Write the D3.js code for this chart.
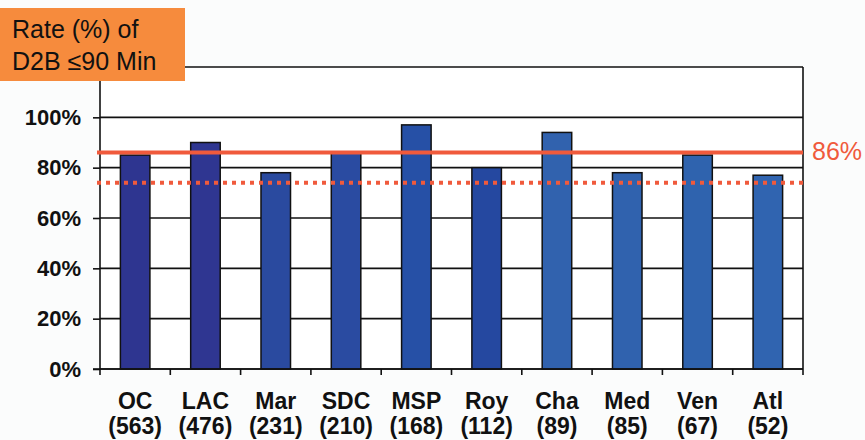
<!DOCTYPE html>
<html>
<head>
<meta charset="utf-8">
<script src="https://cdn.jsdelivr.net/npm/d3@7"></script>
<style>
body { margin:0; background:#fbfcfc; }
svg { display:block; font-family: "Liberation Sans", Arial, sans-serif; }
.tick text { font-weight:bold; }
</style>
</head>
<body>
<svg id="chart"></svg>
<script>
// hospital names, case counts and rates
var sites = ["OC","LAC","Mar","SDC","MSP","Roy","Cha","Med","Ven","Atl"];
var counts = ["(563)","(476)","(231)","(210)","(168)","(112)","(89)","(85)","(67)","(52)"];
var rates = [85, 90, 78, 86, 97, 80, 94, 78, 85, 77];
var barColors = ["#2e3590","#2f3691","#2a4a9f","#2a4ba1","#2650a6","#2548a0","#3162ae","#3062ae","#2f63ae","#3064b0"];
var yTicks = [0, 20, 40, 60, 80, 100];
var target = 86;      // solid line
var lowerLine = 74;   // dotted line

var screen = {width:865, height:440};
var margins = {left:100, right:62, top:67, bottom:71};

var graph = {
    width: screen.width - margins.left - margins.right,
    height: screen.height - margins.top - margins.bottom
};

var svg = d3.select("#chart")
    .attr("width", screen.width)
    .attr("height", screen.height);

var xScale = d3.scaleBand()
    .domain(sites)
    .range([0, graph.width])
    .paddingInner(0.58)
    .paddingOuter(0.29);

var yScale = d3.scaleLinear()
    .domain([0, 120])
    .range([graph.height, 0]);

var plot = svg.append("g")
    .attr("transform", "translate(" + margins.left + "," + margins.top + ")");

// plot background + gridlines
plot.append("rect")
    .attr("width", graph.width)
    .attr("height", graph.height)
    .attr("fill", "#ffffff");

plot.append("g")
    .selectAll("line")
    .data(yTicks.concat([120]))
    .enter()
    .append("line")
    .attr("x1", 0)
    .attr("x2", graph.width)
    .attr("y1", function(d){ return yScale(d); })
    .attr("y2", function(d){ return yScale(d); })
    .attr("stroke", "#111")
    .attr("stroke-width", 1.6);

// right border
plot.append("line")
    .attr("x1", graph.width).attr("x2", graph.width)
    .attr("y1", 0).attr("y2", graph.height)
    .attr("stroke", "#111").attr("stroke-width", 1.6);

// bars
plot.append("g")
    .selectAll("rect")
    .data(rates)
    .enter()
    .append("rect")
    .attr("x", function(d, i){ return xScale(sites[i]); })
    .attr("y", function(d){ return yScale(d); })
    .attr("width", xScale.bandwidth())
    .attr("height", function(d){ return graph.height - yScale(d); })
    .attr("fill", function(d, i){ return barColors[i]; })
    .attr("stroke", "#111")
    .attr("stroke-width", 1.5);

// y axis
var yAxis = d3.axisLeft(yScale)
    .tickValues(yTicks)
    .tickSize(7)
    .tickPadding(12)
    .tickFormat(function(d){ return d + "%"; });

var ya = plot.append("g").call(yAxis);
ya.select(".domain").attr("stroke", "#111").attr("stroke-width", 1.6).attr("d", "M0,0V" + graph.height);
ya.selectAll(".tick line").attr("stroke", "#111").attr("stroke-width", 1.6);
ya.selectAll(".tick text").attr("font-size", 22).attr("fill", "#111");

// x axis ticks between categories
var step = xScale.step();
plot.append("g")
    .selectAll("line")
    .data(d3.range(sites.length + 1))
    .enter()
    .append("line")
    .attr("x1", function(d){ return d * step; })
    .attr("x2", function(d){ return d * step; })
    .attr("y1", graph.height)
    .attr("y2", graph.height + 6)
    .attr("stroke", "#111")
    .attr("stroke-width", 1.6);

plot.append("line")
    .attr("x1", -7).attr("x2", graph.width)
    .attr("y1", graph.height).attr("y2", graph.height)
    .attr("stroke", "#111").attr("stroke-width", 1.6);

// x labels
var xl = plot.append("g");
xl.selectAll("text.site")
    .data(sites)
    .enter()
    .append("text")
    .attr("class", "site")
    .attr("x", function(d){ return xScale(d) + xScale.bandwidth() / 2; })
    .attr("y", graph.height + 40)
    .attr("text-anchor", "middle")
    .attr("font-size", 23)
    .attr("font-weight", "bold")
    .attr("fill", "#111")
    .text(function(d){ return d; });

xl.selectAll("text.count")
    .data(counts)
    .enter()
    .append("text")
    .attr("class", "count")
    .attr("x", function(d, i){ return xScale(sites[i]) + xScale.bandwidth() / 2; })
    .attr("y", graph.height + 65)
    .attr("text-anchor", "middle")
    .attr("font-size", 23)
    .attr("font-weight", "bold")
    .attr("fill", "#111")
    .text(function(d){ return d; });

// reference lines
plot.append("line")
    .attr("x1", -3).attr("x2", graph.width)
    .attr("y1", yScale(target)).attr("y2", yScale(target))
    .attr("stroke", "#f05a3c").attr("stroke-width", 4);

plot.append("line")
    .attr("x1", -3).attr("x2", graph.width)
    .attr("y1", yScale(lowerLine)).attr("y2", yScale(lowerLine))
    .attr("stroke", "#f05a3c").attr("stroke-width", 4)
    .attr("stroke-dasharray", "4,5");

svg.append("text")
    .attr("x", margins.left + graph.width + 9)
    .attr("y", margins.top + yScale(target) + 7)
    .attr("font-size", 25)
    .attr("fill", "#f05a3c")
    .text(target + "%");

// title box
svg.append("rect")
    .attr("x", 0).attr("y", 8)
    .attr("width", 185).attr("height", 73)
    .attr("fill", "#f68b3d");

var title = svg.append("text")
    .attr("font-size", 25)
    .attr("fill", "#111");
title.append("tspan").attr("x", 12).attr("y", 38).text("Rate (%) of");
title.append("tspan").attr("x", 12).attr("y", 70).text("D2B \u226490 Min");
</script>
</body>
</html>
